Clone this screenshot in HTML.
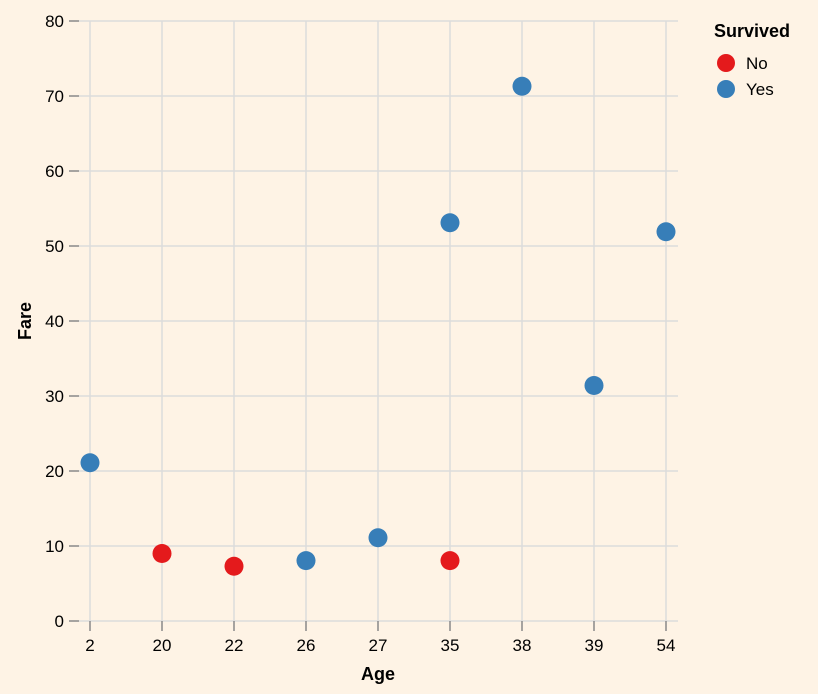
<!DOCTYPE html>
<html><head><meta charset="utf-8"><style>
body{margin:0;background:#fef3e5;}
svg{display:block;font-family:"Liberation Sans",Arial,sans-serif;}
</style></head><body>
<svg id="c" width="818" height="694">
<rect width="818" height="694" fill="#fef3e5"/>
<g id="grid"></g><g id="axes"></g><g id="marks"></g>
<text x="378" y="680" text-anchor="middle" font-size="18" font-weight="bold">Age</text>
<text transform="translate(31,321) rotate(-90)" text-anchor="middle" font-size="18" font-weight="bold">Fare</text>
<g>
<text x="714" y="37" font-size="18" font-weight="bold">Survived</text>
<g><circle cx="726" cy="63" r="9" fill="#e41a1c"/><text x="746" y="69" font-size="17">No</text></g>
<g><circle cx="726" cy="89" r="9" fill="#377eb8"/><text x="746" y="95" font-size="17">Yes</text></g>
</g>
</svg>
<script>
const categories=["2","20","22","26","27","35","38","39","54"];
const ages=["2","20","22","26","27","35","35","38","39","54"];
const fares=[21.1,9.0,7.3,8.05,11.1,53.1,8.05,71.3,31.4,51.9];
const survived=["Yes","No","No","Yes","Yes","Yes","No","Yes","Yes","Yes"];
const yTicks=[0,10,20,30,40,50,60,70,80];
const ns="http://www.w3.org/2000/svg";
function x(c){return 90+categories.indexOf(c)*72;}
function y(v){return 621-v*7.5;}
function mk(t,a,p){const e=document.createElementNS(ns,t);for(const k in a)e.setAttribute(k,a[k]);document.getElementById(p).appendChild(e);return e;}
yTicks.forEach(v=>{
 const g=mk("line",{x1:79,x2:678,y1:y(v),y2:y(v),stroke:"#dcdcdc","stroke-width":1.5},"grid");
 
 
 mk("line",{x1:69,x2:79,y1:y(v),y2:y(v),stroke:"#888","stroke-width":1.5},"axes");
 const t=mk("text",{x:64,y:y(v)+6,"text-anchor":"end","font-size":17},"axes");t.textContent=v;
 
 
});
categories.forEach(c=>{
 const g=mk("line",{x1:x(c),x2:x(c),y1:21,y2:621,stroke:"#dcdcdc","stroke-width":1.5},"grid");
 
 
 mk("line",{x1:x(c),x2:x(c),y1:621,y2:631,stroke:"#888","stroke-width":1.5},"axes");
 const t=mk("text",{x:x(c),y:651,"text-anchor":"middle","font-size":17},"axes");t.textContent=c;
 
 
});
ages.forEach((a,i)=>{
 const p=mk("circle",{cx:x(a),cy:y(fares[i]),r:9.5,fill:survived[i]==="Yes"?"#377eb8":"#e41a1c"},"marks");
 
 
});
</script>
</body></html>
